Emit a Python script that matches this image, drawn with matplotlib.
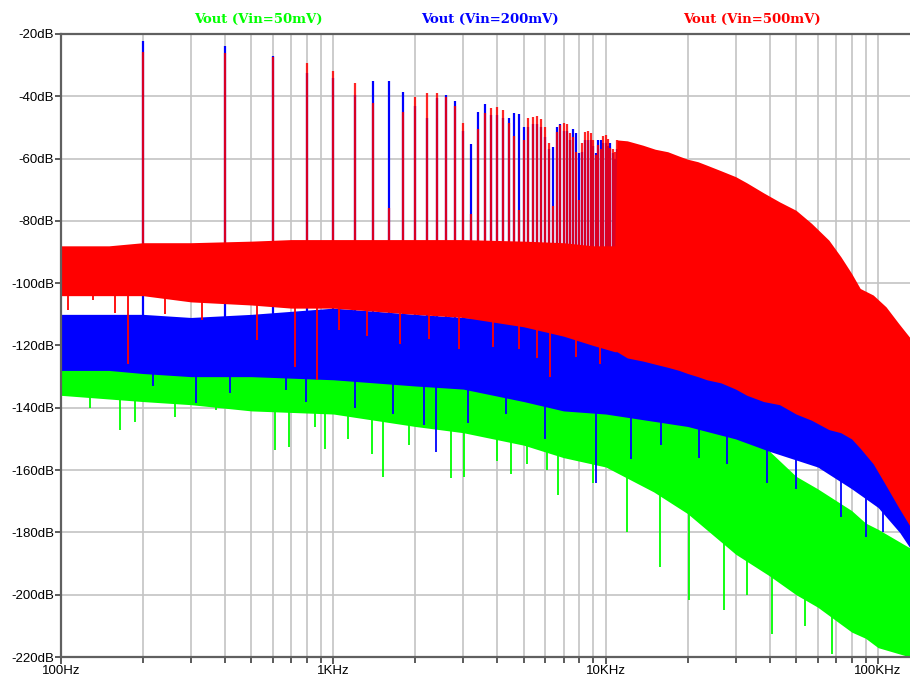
import numpy as np
import matplotlib.pyplot as plt
from matplotlib.ticker import FixedLocator, NullFormatter

# harmonics of the 200 Hz tone (dB)
harm_freq = [200 * n for n in range(1, 56)]
harm_red = [-25.7, -26.2, -27.4, -29.2, -31.8, -35.6, -42.0, -76.0, -45.0, -40.3,
            -38.8, -38.8, -40.1, -43.0, -48.7, -77.8, -50.5, -45.4, -43.6, -43.5,
            -44.4, -48.7, -52.8, -76.5, -54.0, -47.1, -46.8, -46.3, -47.4, -50.0,
            -55.1, -75.3, -51.4, -49.2, -48.7, -48.9, -51.9, -53.0, -57.8, -73.3,
            -55.1, -51.4, -51.1, -51.9, -54.0, -58.9, -55.7, -57.0, -52.8, -52.4,
            -53.8, -56.7, -57.0, -57.8, -54.0]
harm_blue = [-22.2, -23.9, -27.0, -32.6, -34.0, -39.6, -35.1, -35.1, -38.5, -43.0,
             -47.0, -40.7, -39.6, -41.5, -51.0, -55.3, -45.0, -42.6, -46.0, -46.0,
             -47.0, -47.0, -45.3, -45.7, -50.0, -50.0, -49.0, -49.0, -50.0, -53.0,
             -57.0, -56.4, -50.0, -48.9, -51.0, -51.0, -54.0, -50.6, -51.9, -58.1,
             -58.0, -54.0, -54.0, -54.0, -56.0, -58.1, -54.0, -54.0, -55.0, -55.0,
             -56.0, -55.1, -58.1, -60.0, -57.0]

# noise bands (upper / lower edge), red top above 11 kHz is the harmonic envelope
red_f = [100, 150, 200, 300, 500, 700, 1000, 2000, 3000, 5000, 7000, 9000, 10800,
         11000, 12000, 13700, 15200, 16900, 18600, 20000, 21800, 23500, 26500, 30000,
         33000, 38000, 43500, 50000, 57000, 66000, 73000, 80000, 86000, 96000,
         107000, 119000, 131000]
red_top = [-88, -88, -87, -87, -86.5, -86, -86, -86, -86, -86.5, -87, -88, -88,
           -54, -54.3, -55.7, -57, -57.8, -59.2, -60.2, -61, -62.1, -63.9, -65.8,
           -67.8, -71, -73.9, -76.6, -80.8, -86.2, -91.5, -96.9, -101.7, -103.8,
           -107.6, -112.9, -117.5]
red_bot = [-104, -104, -104, -106, -107, -108, -108, -110, -111, -114, -117, -120,
           -122, -122, -124, -125, -126, -127, -128, -129, -130, -131, -132, -134,
           -136, -138, -139, -142, -144, -147, -148, -150, -153, -158,
           -165, -172, -178]

blue_f = [100, 150, 200, 300, 500, 1000, 2000, 3000, 5000, 7000, 10000, 20000,
          30000, 40000, 60000, 80000, 100000, 120000, 131000]
blue_top = [-110, -110, -110, -111, -110, -108, -110, -111, -112, -113, -115, -120,
            -125, -128, -135, -140, -145, -150, -153]
blue_bot = [-128, -128, -129, -130, -130, -131, -133, -134, -138, -141, -142, -146,
            -150, -154, -159, -166, -172, -180, -185]

green_f = [100, 200, 300, 500, 1000, 2000, 3000, 5000, 7000, 10000, 15000, 20000,
           30000, 40000, 50000, 60000, 80000, 90000, 100000, 131000]
green_top = [-118, -119, -120, -121, -122, -124, -125, -128, -130, -132, -135, -138,
             -146, -154, -162, -166, -173, -177, -179, -185]
green_bot = [-136, -138, -139, -141, -142, -146, -148, -152, -156, -159, -167, -174,
             -187, -194, -200, -204, -212, -214, -217, -220]

# deepest single-bin dips
red_dip_f = [106, 131, 158, 176, 240, 328, 523, 722, 872, 1050, 1330, 1750, 2250,
             2900, 3860, 4820, 5600, 6270, 7800, 9500]
red_dip = [-108.7, -105.5, -109.6, -125.8, -110, -111.9, -118.3, -126.9, -131.1,
           -115, -117, -119.4, -118, -121, -120.5, -121, -124, -130.1, -123.7, -126]
blue_dip_f = [218, 313, 417, 672, 795, 1200, 1650, 2160, 2380, 3130, 4300, 6000,
              9200, 12400, 16000, 22000, 28000, 39000, 50000, 73000, 90000, 104000]
blue_dip = [-133, -138.6, -135.4, -134.4, -138, -140, -142, -145.6, -154.2, -145,
            -142, -150, -164.3, -156.3, -152, -156, -158, -164.3, -166, -175,
            -181.5, -180]
green_dip_f = [128, 165, 187, 262, 372, 610, 690, 855, 935, 1130, 1390, 1520, 1900,
               2700, 3030, 4000, 4500, 5130, 6070, 6700, 8950, 12000, 15800, 20300,
               27300, 33000, 40800, 54000, 68000]
green_dip = [-140, -147.2, -144.5, -142.9, -140.8, -153.6, -152.6, -146.1, -153.1,
             -150, -154.7, -162.2, -152, -162.6, -162.2, -157, -161.1, -158, -160,
             -168, -164.3, -180, -191, -201.8, -205, -200, -212.5, -210, -218.9]

traces = ["Vout (Vin=50mV)", "Vout (Vin=200mV)", "Vout (Vin=500mV)"]
GREEN, BLUE, RED = "#00ff00", "#0000ff", "#ff0000"


def dip_lines(ax, f, db, band_f, band_bot, color, z):
    tops = np.interp(np.log10(f), np.log10(band_f), band_bot) + 2
    ax.vlines(f, db, tops, color=color, lw=1.3, zorder=z)


fig = plt.figure(figsize=(9.1, 6.78), dpi=100)
ax = fig.add_axes([61 / 910, 1 - 657 / 678, 1 - 61 / 910, (657 - 34) / 678])
ax.set_xscale("log")
ax.set_xlim(100, 131000)
ax.set_ylim(-220, -20)

# green trace
ax.fill_between(green_f, green_bot, green_top, color=GREEN, lw=0, zorder=1)
dip_lines(ax, green_dip_f, green_dip, green_f, green_bot, GREEN, 1.1)

# blue trace
ax.fill_between(blue_f, blue_bot, blue_top, color=BLUE, lw=0, zorder=2)
dip_lines(ax, blue_dip_f, blue_dip, blue_f, blue_bot, BLUE, 2.1)
ax.vlines(harm_freq, -118, harm_blue, color=BLUE, lw=1.6, zorder=2.2)

# red trace
ax.fill_between(red_f, red_bot, red_top, color=RED, lw=0, zorder=3)
dip_lines(ax, red_dip_f, red_dip, red_f, red_bot, RED, 3.1)
ax.vlines(harm_freq, -100, harm_red, color=RED, lw=1.6, alpha=0.85, zorder=3.2)

# axes styling, LTspice look
ax.grid(True, which="both", color="#c4c4c4", lw=1.2, zorder=0.5)
ax.set_axisbelow(True)
for side in ["left", "top", "bottom"]:
    ax.spines[side].set_color("#606060")
    ax.spines[side].set_linewidth(1.6)
    ax.spines[side].set_zorder(5)
ax.spines["right"].set_visible(False)

yt = list(range(-220, -19, 20))
ax.yaxis.set_major_locator(FixedLocator(yt))
ax.set_yticklabels([f"{v}dB" for v in yt])
ax.xaxis.set_major_locator(FixedLocator([100, 1000, 10000, 100000]))
ax.set_xticklabels(["100Hz", "1KHz", "10KHz", "100KHz"])
minors = [m * 10 ** d for d in range(2, 6) for m in range(2, 10) if m * 10 ** d < 131000]
ax.xaxis.set_minor_locator(FixedLocator(minors))
ax.xaxis.set_minor_formatter(NullFormatter())
ax.tick_params(axis="both", which="both", direction="out", length=4, width=1.2,
               color="#404040", labelsize=9.5, pad=1)
ax.tick_params(axis="x", which="major", length=5)
for lab in ax.get_xticklabels() + ax.get_yticklabels():
    lab.set_family("Liberation Sans")

for name, col, xc in zip(traces, [GREEN, BLUE, RED], [258, 490, 752]):
    fig.text(xc / 910, 1 - 19 / 678, name, color=col, ha="center", va="center",
             family="DejaVu Serif", weight="bold", fontsize=9.5)

fig.savefig("out.png", dpi=100)
